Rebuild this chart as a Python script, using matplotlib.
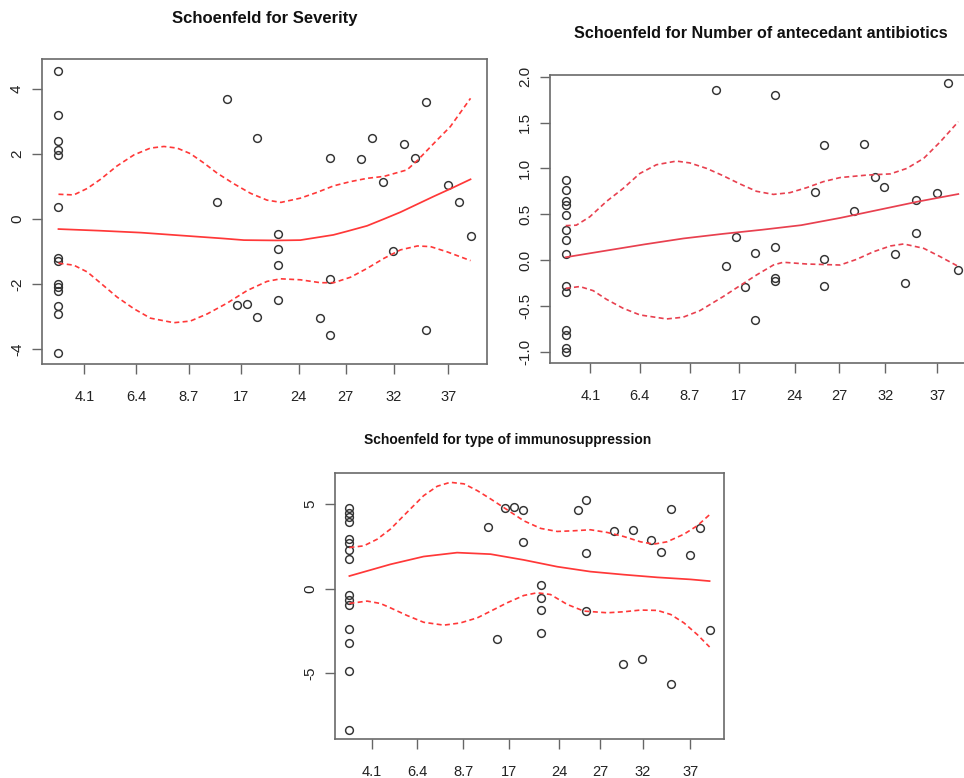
import numpy as np
import matplotlib
matplotlib.use('Agg')
import matplotlib.pyplot as plt

plt.rcParams['font.family'] = ['Liberation Sans', 'DejaVu Sans']
plt.rcParams['axes.unicode_minus'] = False

# transformed time axis
xtick_pos = [0.063, 0.188, 0.316, 0.442, 0.583, 0.697, 0.814, 0.946]
xtick_lab = ['4.1', '6.4', '8.7', '17', '24', '27', '32', '37']

# event times after the first one (shared by all panels)
event_x = [0.384, 0.409, 0.433, 0.457, 0.481, 0.481, 0.532, 0.532, 0.532, 0.532,
           0.634, 0.658, 0.658, 0.658, 0.734, 0.760, 0.787, 0.812, 0.838, 0.865,
           0.892, 0.892, 0.946, 0.973, 1.0]

# --- Severity
sev_first = [4.55, 3.21, 2.40, 2.11, 1.96, 0.36, -1.21, -1.30, -2.01, -2.10,
             -2.20, -2.68, -2.92, -4.13]
sev_rest = [0.52, 3.69, -2.66, -2.62, 2.48, -3.01, -0.47, -0.93, -1.42, -2.49,
            -3.05, 1.87, -1.85, -3.58, 1.84, 2.48, 1.15, -0.97, 2.31, 1.87,
            3.59, -3.42, 1.05, 0.51, -0.52]
sev_fit_x = [0, 0.1, 0.2, 0.3, 0.4, 0.45, 0.53, 0.587, 0.667, 0.70, 0.749, 0.79,
             0.83, 0.87, 0.91, 0.955, 1.0]
sev_fit = [-0.31, -0.36, -0.42, -0.51, -0.60, -0.65, -0.66, -0.65, -0.49, -0.38,
           -0.21, 0.0, 0.21, 0.45, 0.69, 0.95, 1.22]
sev_up_x = [0, 0.037, 0.070, 0.102, 0.142, 0.183, 0.223, 0.256, 0.288, 0.320, 0.353,
            0.385, 0.426, 0.466, 0.506, 0.540, 0.587, 0.628, 0.668, 0.709, 0.749,
            0.790, 0.846, 0.871, 0.919, 0.951, 1.0]
sev_up = [0.76, 0.74, 0.94, 1.22, 1.63, 1.97, 2.18, 2.23, 2.18, 2.01, 1.72,
          1.41, 1.08, 0.79, 0.58, 0.51, 0.64, 0.82, 1.02, 1.15, 1.25,
          1.31, 1.51, 1.80, 2.43, 2.84, 3.71]
sev_lo_x = [0, 0.037, 0.070, 0.102, 0.142, 0.183, 0.223, 0.280, 0.320, 0.361, 0.409,
            0.458, 0.506, 0.539, 0.587, 0.636, 0.668, 0.709, 0.749, 0.790, 0.830,
            0.871, 0.903, 0.943, 1.0]
sev_lo = [-1.36, -1.42, -1.63, -1.97, -2.40, -2.76, -3.05, -3.19, -3.14, -2.92, -2.59,
          -2.20, -1.92, -1.84, -1.87, -1.96, -1.96, -1.79, -1.52, -1.21, -0.95,
          -0.83, -0.85, -1.01, -1.28]

# --- Number of antecedant antibiotics
abx_first = [0.87, 0.76, 0.64, 0.60, 0.49, 0.33, 0.22, 0.06, -0.28, -0.35,
             -0.77, -0.82, -0.96, -1.00]
abx_rest = [1.855, -0.065, 0.247, -0.295, 0.076, -0.651, 1.80, 0.138, -0.20, -0.23,
            0.745, 1.258, 0.015, -0.284, 0.538, 1.269, 0.902, 0.796, 0.062, -0.247,
            0.655, 0.298, 0.727, 1.938, -0.105]
abx_fit_x = [0, 0.1, 0.2, 0.3, 0.4, 0.5, 0.6, 0.7, 0.8, 0.9, 1.0]
abx_fit = [0.03, 0.10, 0.17, 0.235, 0.285, 0.33, 0.38, 0.46, 0.55, 0.64, 0.72]
abx_up_x = [0, 0.027, 0.061, 0.104, 0.146, 0.189, 0.231, 0.282, 0.316, 0.359, 0.401,
            0.444, 0.486, 0.529, 0.571, 0.614, 0.656, 0.699, 0.767, 0.827, 0.869,
            0.912, 0.954, 1.0]
abx_up = [0.375, 0.38, 0.47, 0.64, 0.78, 0.945, 1.04, 1.08, 1.06, 1.0, 0.92,
          0.83, 0.75, 0.716, 0.735, 0.79, 0.855, 0.90, 0.927, 0.94, 1.0,
          1.11, 1.29, 1.51]
abx_lo_x = [0, 0.036, 0.07, 0.104, 0.146, 0.189, 0.257, 0.299, 0.342, 0.401, 0.444,
            0.486, 0.529, 0.554, 0.614, 0.699, 0.741, 0.784, 0.827, 0.861, 0.912,
            0.954, 1.0]
abx_lo = [-0.31, -0.29, -0.335, -0.43, -0.527, -0.60, -0.644, -0.625, -0.553, -0.40,
          -0.28, -0.164, -0.055, -0.025, -0.044, -0.055, 0.007, 0.09, 0.153, 0.175,
          0.127, 0.036, -0.07]

# --- type of immunosuppression
imm_first = [4.76, 4.45, 4.25, 3.95, 2.92, 2.67, 2.29, 1.78, -0.36, -0.65,
             -0.97, -2.35, -3.22, -4.86, -8.34]
imm_rest = [3.66, -2.96, 4.76, 4.80, 4.66, 2.77, 0.22, -0.53, -1.23, -2.63,
            4.66, 5.24, 2.13, -1.32, 3.42, -4.45, 3.48, -4.13, 2.89, 2.15,
            4.70, -5.61, 1.98, 3.56, -2.45]
imm_fit_x = [0, 0.114, 0.206, 0.299, 0.392, 0.484, 0.577, 0.669, 0.762, 0.855, 0.947, 1.0]
imm_fit = [0.75, 1.44, 1.90, 2.13, 2.04, 1.70, 1.30, 1.01, 0.83, 0.67, 0.55, 0.45]
imm_up_x = [0, 0.04, 0.077, 0.114, 0.16, 0.206, 0.244, 0.28, 0.318, 0.355, 0.392,
            0.438, 0.484, 0.531, 0.577, 0.623, 0.669, 0.716, 0.762, 0.808, 0.845,
            0.882, 0.929, 0.966, 1.0]
imm_up = [2.43, 2.53, 2.92, 3.52, 4.51, 5.49, 6.05, 6.28, 6.19, 5.79, 5.30,
          4.66, 4.01, 3.56, 3.38, 3.42, 3.48, 3.32, 3.08, 2.77, 2.63,
          2.77, 3.22, 3.72, 4.37]
imm_lo_x = [0, 0.049, 0.086, 0.114, 0.16, 0.206, 0.262, 0.308, 0.355, 0.401, 0.438,
            0.484, 0.521, 0.558, 0.605, 0.651, 0.716, 0.762, 0.808, 0.855, 0.892,
            0.929, 0.966, 1.0]
imm_lo = [-0.87, -0.73, -0.87, -1.13, -1.58, -1.98, -2.15, -2.02, -1.72, -1.23, -0.83,
          -0.40, -0.24, -0.34, -0.93, -1.32, -1.42, -1.36, -1.26, -1.28, -1.52,
          -2.02, -2.71, -3.44]

W, H = 964, 778
fig = plt.figure(figsize=(W / 100, H / 100), dpi=100)


def px_axes(left, top, right, bottom):
    return fig.add_axes([left / W, 1 - bottom / H, (right - left) / W, (bottom - top) / H])


def panel(ax, first, rest, fit, up, lo, ylim, yticks, ylabels, title, title_x, title_pad,
          title_size, red):
    xs = [0.0] * len(first) + event_x
    ys = first + rest
    ax.plot(xs, ys, linestyle='none', marker='o', ms=5.6, mfc='none',
            mec='#333333', mew=1.05)
    ax.plot(fit[0], fit[1], color=red, lw=1.25)
    ax.plot(up[0], up[1], color=red, lw=1.2, linestyle=(0, (3, 2)))
    ax.plot(lo[0], lo[1], color=red, lw=1.2, linestyle=(0, (3, 2)))
    ax.set_xlim(-0.04, 1.04)
    ax.set_ylim(*ylim)
    ax.set_xticks(xtick_pos)
    ax.set_xticklabels(xtick_lab, fontsize=10.5, color='#222222')
    ax.set_yticks(yticks)
    ax.set_yticklabels(ylabels, fontsize=11, color='#222222',
                       rotation=90, va='center')
    ax.tick_params(axis='x', length=7, width=1.0, color='#666666', pad=12)
    ax.tick_params(axis='y', length=7, width=1.0, color='#666666', pad=6)
    for s in ax.spines.values():
        s.set_color('#6a6a6a')
        s.set_linewidth(1.2)
    ax.text(title_x, 1 + title_pad, title, transform=ax.transAxes, ha='center',
            va='baseline', fontsize=title_size, fontweight='bold', color='#111111')


ax1 = px_axes(42, 59, 487, 364)
panel(ax1, sev_first, sev_rest, (sev_fit_x, sev_fit), (sev_up_x, sev_up),
      (sev_lo_x, sev_lo), (-4.46, 4.92), [-4, -2, 0, 2, 4], ['-4', '-2', '0', '2', '4'],
      'Schoenfeld for Severity', 0.5, 36 / 305, 12, '#ff3838')

ax2 = px_axes(550, 75, 974, 363)
panel(ax2, abx_first, abx_rest, (abx_fit_x, abx_fit), (abx_up_x, abx_up),
      (abx_lo_x, abx_lo), (-1.125, 2.02), [-1.0, -0.5, 0.0, 0.5, 1.0, 1.5, 2.0],
      ['-1.0', '-0.5', '0.0', '0.5', '1.0', '1.5', '2.0'],
      'Schoenfeld for Number of antecedant antibiotics', (761 - 550) / 424, 37 / 288,
      11.65, '#e8404f')

ax3 = px_axes(335, 473, 724, 739)
panel(ax3, imm_first, imm_rest, (imm_fit_x, imm_fit), (imm_up_x, imm_up),
      (imm_lo_x, imm_lo), (-8.87, 6.83), [-5, 0, 5], ['-5', '0', '5'],
      'Schoenfeld for type of immunosuppression', (508 - 335) / 389, 29 / 266,
      10, '#ff3838')

fig.savefig('out.png', dpi=100)
